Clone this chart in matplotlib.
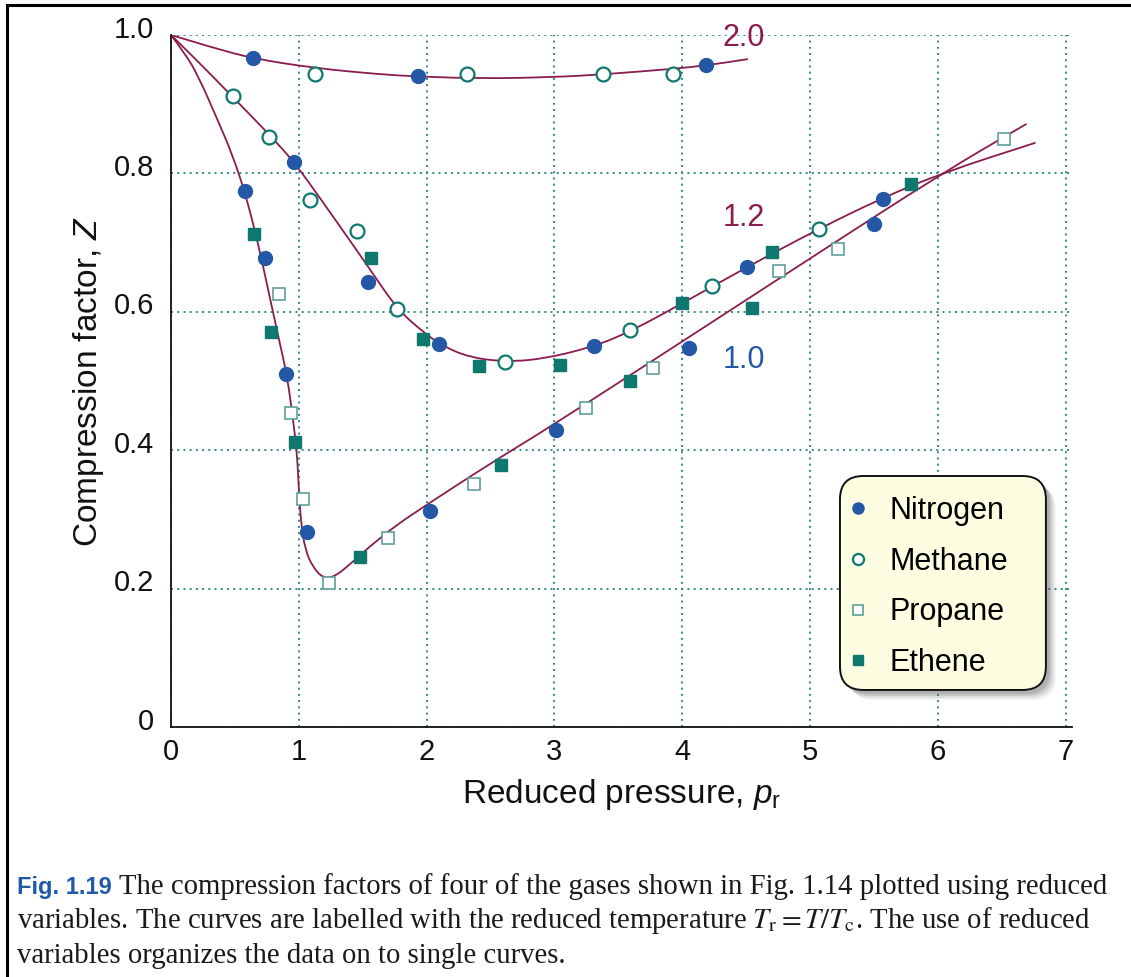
import matplotlib
matplotlib.use('Agg')
import matplotlib.pyplot as plt
import matplotlib.transforms as mtransforms
from matplotlib import font_manager
from matplotlib.patches import FancyBboxPatch, Rectangle, PathPatch
from matplotlib.path import Path

# measured compression factors, Z against reduced pressure p_r
nitrogen_p = [0.64, 1.93, 4.19, 0.96, 1.54, 2.10, 3.31, 4.51, 5.57,
              0.58, 0.735, 0.90, 1.065, 2.03, 3.01, 4.05, 5.50]
nitrogen_z = [0.967, 0.940, 0.956, 0.816, 0.643, 0.553, 0.550, 0.665, 0.763,
              0.774, 0.677, 0.510, 0.282, 0.312, 0.429, 0.547, 0.727]

methane_p = [1.13, 2.32, 3.38, 3.93, 0.485, 0.77, 1.09, 1.455, 1.77,
             2.61, 3.59, 4.23, 5.07]
methane_z = [0.943, 0.943, 0.943, 0.943, 0.912, 0.853, 0.762, 0.717, 0.604,
             0.528, 0.574, 0.637, 0.719]

propane_p = [0.845, 0.94, 1.03, 1.24, 1.70, 2.37, 3.25, 3.77, 4.76, 5.22, 6.52]
propane_z = [0.625, 0.454, 0.330, 0.208, 0.273, 0.351, 0.461, 0.519, 0.659, 0.691, 0.850]

ethene_p = [1.565, 1.97, 2.41, 3.04, 4.00, 4.70, 5.79,
            0.65, 0.78, 0.97, 1.48, 2.58, 3.59, 4.55]
ethene_z = [0.678, 0.561, 0.522, 0.523, 0.612, 0.687, 0.785,
            0.713, 0.571, 0.412, 0.246, 0.379, 0.500, 0.606]

# traced isotherms, labelled by reduced temperature
curve_20_p = [0, 0.32, 0.64, 1.13, 1.64, 1.93, 2.42, 2.99, 3.38, 3.93, 4.19, 4.51]
curve_20_z = [1.0, 0.982, 0.966, 0.952, 0.943, 0.940, 0.937, 0.939, 0.943, 0.951, 0.956, 0.965]

curve_12_p = [0, 0.21, 0.485, 0.77, 0.97, 1.19, 1.40, 1.565, 1.77, 1.97, 2.13,
              2.34, 2.60, 2.89, 3.30, 3.60, 4.00, 4.50, 5.06, 5.56, 6.04, 6.76]
curve_12_z = [1.0, 0.962, 0.910, 0.856, 0.815, 0.758, 0.703, 0.659, 0.604, 0.571, 0.550,
              0.534, 0.528, 0.531, 0.549, 0.572, 0.612, 0.664, 0.719, 0.764, 0.801, 0.844]

curve_10_p = [0, 0.11, 0.21, 0.37, 0.48, 0.58, 0.68, 0.76, 0.84, 0.91, 0.955, 0.986,
              1.00, 1.017, 1.05, 1.11, 1.19, 1.28, 1.40, 1.55, 1.75, 2.00, 2.50,
              2.97, 4.00, 5.00, 6.04, 6.69]
curve_10_z = [1.0, 0.973, 0.942, 0.875, 0.827, 0.772, 0.700, 0.632, 0.564, 0.506, 0.444, 0.396,
              0.343, 0.295, 0.256, 0.231, 0.215, 0.217, 0.235, 0.260, 0.290, 0.321, 0.381,
              0.434, 0.557, 0.677, 0.801, 0.871]

curve_labels = ['2.0', '1.2', '1.0']
label_p = [4.48, 4.48, 4.48]
label_z = [0.996, 0.735, 0.531]

x_ticks = [0, 1, 2, 3, 4, 5, 6, 7]
y_ticks = [0, 0.2, 0.4, 0.6, 0.8, 1.0]
y_tick_labels = ['0', '0.2', '0.4', '0.6', '0.8', '1.0']

line_col = '#8a1c4e'
blue = '#2458a6'
teal = '#0f786e'
teal_light = '#5f9f99'
grid_col = '#2f8a84'

installed = {f.name for f in font_manager.fontManager.ttflist}
narrow = 'Liberation Sans Narrow' if 'Liberation Sans Narrow' in installed else 'Liberation Sans'
plt.rcParams['font.family'] = [narrow, 'DejaVu Sans']
plt.rcParams['mathtext.fontset'] = 'custom'
plt.rcParams['mathtext.rm'] = narrow
plt.rcParams['mathtext.it'] = narrow + ':italic'


def smooth_curve(ax, px, pz, **kw):
    # quadratic segments through the midpoints of the traced points
    verts = [(px[0], pz[0])]
    codes = [Path.MOVETO]
    for i in range(1, len(px) - 1):
        verts += [(px[i], pz[i]), ((px[i] + px[i + 1]) / 2, (pz[i] + pz[i + 1]) / 2)]
        codes += [Path.CURVE3, Path.CURVE3]
    verts.append((px[-1], pz[-1]))
    codes.append(Path.LINETO)
    ax.add_patch(PathPatch(Path(verts, codes), fill=False, **kw))


fig = plt.figure(figsize=(11.31, 9.77), dpi=100)
ax = fig.add_axes([0.1512, 0.2559, 0.7966, 0.7083])

ax.set_xlim(0, 7.05)
ax.set_ylim(0, 1.0)

for cp, cz in [(curve_20_p, curve_20_z), (curve_12_p, curve_12_z), (curve_10_p, curve_10_z)]:
    smooth_curve(ax, cp, cz, ec=line_col, lw=1.3, zorder=2, capstyle='round')

h_n, = ax.plot(nitrogen_p, nitrogen_z, 'o', ms=10, color=blue, mec=blue,
               label='Nitrogen', zorder=3, clip_on=False)
h_m, = ax.plot(methane_p, methane_z, 'o', ms=10, mfc='white', mec=teal, mew=1.6,
               label='Methane', zorder=3, clip_on=False)
h_p, = ax.plot(propane_p, propane_z, 's', ms=8.5, mfc='white', mec=teal_light, mew=1.2,
               label='Propane', zorder=3, clip_on=False)
h_e, = ax.plot(ethene_p, ethene_z, 's', ms=8.5, color=teal, mec=teal,
               label='Ethene', zorder=3, clip_on=False)

for txt, px, pz, c in zip(curve_labels, label_p, label_z, [line_col, line_col, blue]):
    ax.text(px, pz, txt, color=c, fontsize=22, ha='center', va='center', clip_on=False)

# axes styling
for side in ['top', 'right']:
    ax.spines[side].set_visible(False)
for side in ['left', 'bottom']:
    ax.spines[side].set_linewidth(1.3)
    ax.spines[side].set_color('#111111')
    ax.spines[side].set_zorder(4)
ax.set_xticks(x_ticks)
ax.set_yticks(y_ticks)
ax.set_yticklabels(y_tick_labels)
ax.tick_params(length=0, labelsize=21, colors='#111111')
ax.tick_params(axis='y', pad=12)
ax.tick_params(axis='x', pad=8)
ax.grid(True, color=grid_col, lw=1.4, linestyle=(0, (1, 2.2)), zorder=1)
ax.set_axisbelow(True)

shift = mtransforms.ScaledTranslation(0, 6 / 72, fig.dpi_scale_trans)
for lbl in ax.get_yticklabels():
    lbl.set_transform(lbl.get_transform() + shift)

ax.set_xlabel(r'Reduced pressure, $p_{\mathrm{r}}$', fontsize=24, labelpad=8, color='#111111')
ax.set_ylabel(r'Compression factor, $Z$', fontsize=24, labelpad=6, color='#111111')

# legend box with a soft drop shadow
bx, by, bw, bh = 0.7425, 0.0535, 0.2286, 0.3092
for k, a in [(10, 0.08), (8, 0.12), (6, 0.16), (4, 0.2)]:
    ax.add_patch(FancyBboxPatch((bx + k / 901, by - k / 692), bw, bh,
                                boxstyle='round,pad=0,rounding_size=0.026',
                                mutation_aspect=1.3, transform=ax.transAxes,
                                fc='#555555', ec='none', alpha=a, zorder=5, clip_on=False))
ax.add_patch(FancyBboxPatch((bx, by), bw, bh, boxstyle='round,pad=0,rounding_size=0.026',
                            mutation_aspect=1.3, transform=ax.transAxes,
                            fc='#fdfde2', ec='#111111', lw=1.4, zorder=6, clip_on=False))
leg = ax.legend(handles=[h_n, h_m, h_p, h_e], loc='upper left', bbox_to_anchor=(0.749, 0.334),
                frameon=False, borderpad=0, borderaxespad=0, handlelength=0.8,
                handletextpad=0.64, labelspacing=0.68, markerscale=0.8,
                prop={'family': 'Liberation Sans', 'size': 22})
leg.set_zorder(7)

# outer frame and caption
fig.add_artist(Rectangle((7 / 1131, -0.05), 1.2, 1.05 - 5 / 977, transform=fig.transFigure,
                         fill=False, ec='black', lw=2.2, clip_on=False))
fig.text(17 / 1131, 0.085, 'Fig. 1.19', color='#1f5aa8', fontsize=17, fontweight='bold',
         family=[narrow, 'DejaVu Sans'], va='baseline')
fig.text(119 / 1131, 0.085,
         'The compression factors of four of the gases shown in Fig. 1.14 plotted using reduced',
         family='Liberation Serif', fontsize=20.7, va='baseline', color='#1a1a1a')
fig.text(17 / 1131, 0.0502,
         r'variables. The curves are labelled with the reduced temperature '
         r'$T_{\mathrm{r}} = T/T_{\mathrm{c}}$. The use of reduced',
         family='Liberation Serif', fontsize=20.7, va='baseline', color='#1a1a1a',
         math_fontfamily='stix')
fig.text(17 / 1131, 0.0143, 'variables organizes the data on to single curves.',
         family='Liberation Serif', fontsize=20.7, va='baseline', color='#1a1a1a')

fig.savefig('out.png', dpi=100, facecolor='white')
